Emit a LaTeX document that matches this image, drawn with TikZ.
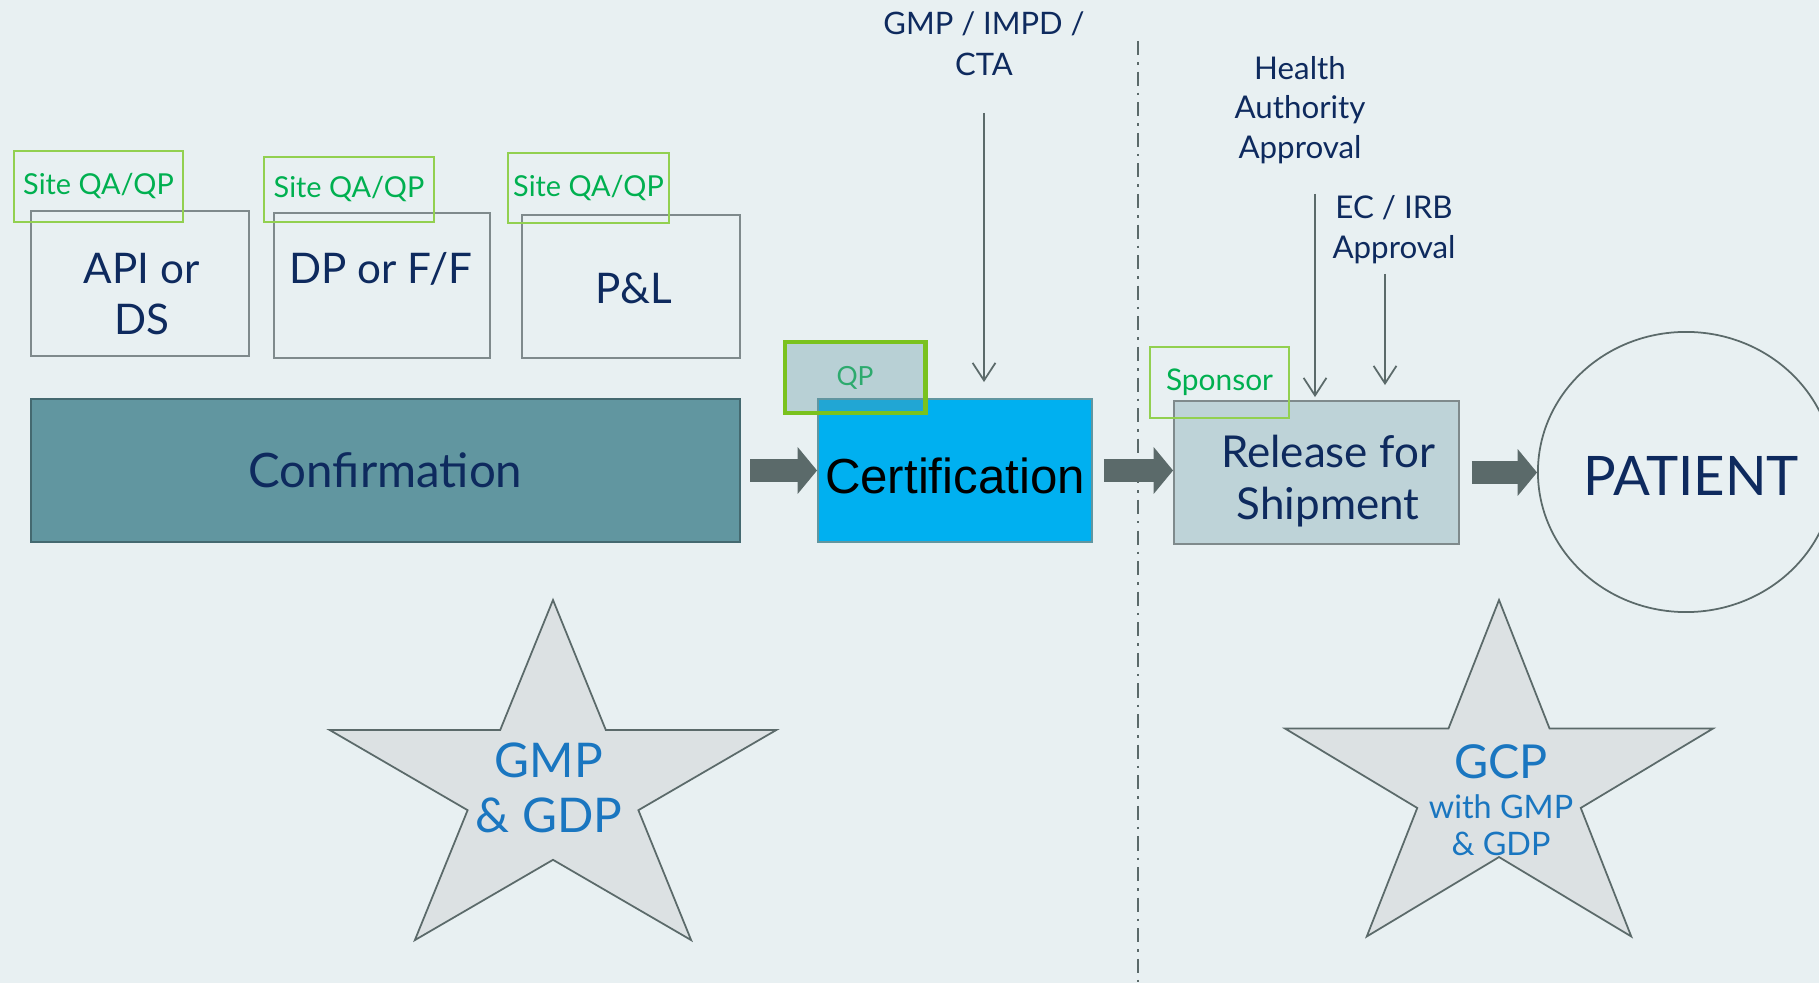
\documentclass[tikz,border=0pt]{standalone}
\usepackage{fontspec}
\setmainfont{Lato}
\newfontfamily\arialfont{Liberation Sans}
\usetikzlibrary{arrows.meta, shapes.geometric}

\definecolor{bgcol}{HTML}{E8F0F2}
\definecolor{navy}{HTML}{0E2A5E}
\definecolor{boxgrey}{HTML}{7F8A8C}
\definecolor{tealfill}{HTML}{6196A0}
\definecolor{cyanfill}{HTML}{00B0F0}
\definecolor{relfill}{HTML}{BED3D8}
\definecolor{sitegreen}{HTML}{00B050}
\definecolor{lightgreen}{HTML}{92D050}
\definecolor{qpgreen}{HTML}{7AC21E}
\definecolor{qptext}{HTML}{2DAA6E}
\definecolor{arrowgrey}{HTML}{5B6A6A}
\definecolor{starfill}{HTML}{DCE1E3}
\definecolor{starblue}{HTML}{1A76C0}

\tikzset{>={Straight Barb[length=5pt, width=6.5pt]},
  greybox/.style={draw=boxgrey, line width=0.5pt, text=navy, align=center, inner sep=1pt},
  boxtext/.style={text=navy, align=center, inner sep=1pt},
  sitebox/.style={draw=lightgreen, line width=0.5pt, text=sitegreen, inner sep=1pt, font=\fontsize{8.2}{10}\selectfont},
  flowarrow/.style={draw=arrowgrey, line width=6.3pt, -{Triangle[length=5.5pt, width=13pt]}},
  inarrow/.style={draw=arrowgrey, line width=0.5pt, ->},
  starshape/.style={draw=arrowgrey, fill=starfill, line width=0.5pt},
  toptext/.style={text=navy, align=center}
}

\begin{document}
\begin{tikzpicture}[x=0.01cm, y=-0.01cm]
\useasboundingbox[fill=bgcol] (0,0) rectangle (1819,983);

% sites
\node[greybox, minimum width=2.18cm, minimum height=1.45cm] (api) at (140,283.5) {};
\node[greybox, minimum width=2.16cm, minimum height=1.45cm] (dp) at (382,285.5) {};
\node[greybox, minimum width=2.18cm, minimum height=1.43cm] (pl) at (631,286.5) {};
\node[boxtext, font=\fontsize{12}{14.5}\selectfont] (apitxt) at (141.5,294.5) {API or\\DS};
\node[boxtext, font=\fontsize{12}{14.5}\selectfont] (dptxt) at (381,269) {DP or F/F};
\node[boxtext, font=\fontsize{12}{14.5}\selectfont] (pltxt) at (634,288) {P\&L};
\node[sitebox, minimum width=1.69cm, minimum height=0.71cm] (site1) at (98.5,186.5) {Site QA/QP};
\node[sitebox, minimum width=1.70cm, minimum height=0.65cm] (site2) at (349,189.5) {Site QA/QP};
\node[sitebox, minimum width=1.61cm, minimum height=0.70cm] (site3) at (588.5,188) {Site QA/QP};

% main flow
\node[greybox, fill=tealfill, draw=tealfill!70!black, minimum width=7.09cm, minimum height=1.43cm, font=\fontsize{13.5}{16}\selectfont] (conf) at (385.5,470.5) {Confirmation};
\node[greybox, fill=cyanfill, draw=tealfill, minimum width=2.74cm, minimum height=1.43cm] (cert) at (955,470.5) {};
\node[boxtext, text=black, font=\arialfont\fontsize{14}{16}\selectfont] (certtxt) at (955,476) {Certification};
\node[draw=qpgreen, line width=1.4pt, fill=tealfill, fill opacity=0.35, text opacity=1, text=qptext, minimum width=1.40cm, minimum height=0.71cm, font=\fontsize{7.5}{9}\selectfont] (qp) at (855,377.5) {QP};
\node[greybox, fill=relfill, minimum width=2.85cm, minimum height=1.43cm] (rel) at (1316.5,472.5) {};
\node[boxtext, font=\fontsize{12.5}{15}\selectfont] (reltxt) at (1328,481) {Release for\\Shipment};
\node[sitebox, font=\fontsize{8.5}{10}\selectfont, minimum width=1.39cm, minimum height=0.71cm] (sponsor) at (1219.5,382.5) {Sponsor};
\node[ellipse, draw=arrowgrey, line width=0.5pt, minimum width=2.96cm, minimum height=2.80cm] (patient) at (1686,472) {};
\node[boxtext, font=\fontsize{15.5}{18}\selectfont] (patienttxt) at (1691,476) {PATIENT};

\draw[flowarrow, shorten <=0.09cm] (conf) -- (cert);
\draw[flowarrow, shorten <=0.11cm] (cert.east) -- (cert.east -| rel.west);
\draw[flowarrow, shorten <=0.12cm] (rel.east) -- (rel.east -| patient.west);

% divider
\coordinate (divtop) at (1138,41);
\coordinate (divbot) at (1138,983);
\draw[arrowgrey, line width=0.6pt, dash pattern=on 4pt off 2pt on 0.7pt off 2pt] (divtop) -- (divbot);

% approvals
\node[toptext, font=\fontsize{8.8}{11.7}\selectfont] (gmptxt) at (984,43.5) {GMP / IMPD /\\CTA};
\node[toptext, font=\fontsize{8.9}{11.3}\selectfont] (hatxt) at (1300,110) {Health\\Authority\\Approval};
\node[toptext, font=\fontsize{8.9}{11.3}\selectfont] (ectxt) at (1394,230) {EC / IRB\\Approval};
\coordinate (gmpin) at (984,113);
\coordinate (hain) at (1315,194);
\coordinate (ecin) at (1385,274);
\draw[inarrow, shorten >=0.16cm] (gmpin) -- (gmpin |- cert.north);
\draw[inarrow, shorten >=0.03cm] (hain) -- (hain |- rel.north);
\draw[inarrow, shorten >=0.15cm] (ecin) -- (ecin |- rel.north);

% stars
\foreach \cx/\cy/\rx/\ry in {553/788/235/188, 1499/786/225/186}
  \draw[starshape] plot[samples at={0,...,9}] ({\cx+\rx*(1-0.618*mod(\x,2))*cos(90+36*\x)}, {\cy-\ry*(1-0.618*mod(\x,2))*sin(90+36*\x)}) -- cycle;
\node[text=starblue, align=center, font=\fontsize{13.6}{15.6}\selectfont] (gmpgdp) at (549,788) {GMP\\\& GDP};
\node[text=starblue, align=center, font=\fontsize{9.2}{10.5}\selectfont] (gcp) at (1501,800) {{\fontsize{13.3}{15}\selectfont GCP}\\[1pt]with GMP\\\& GDP};
\end{tikzpicture}
\end{document}
